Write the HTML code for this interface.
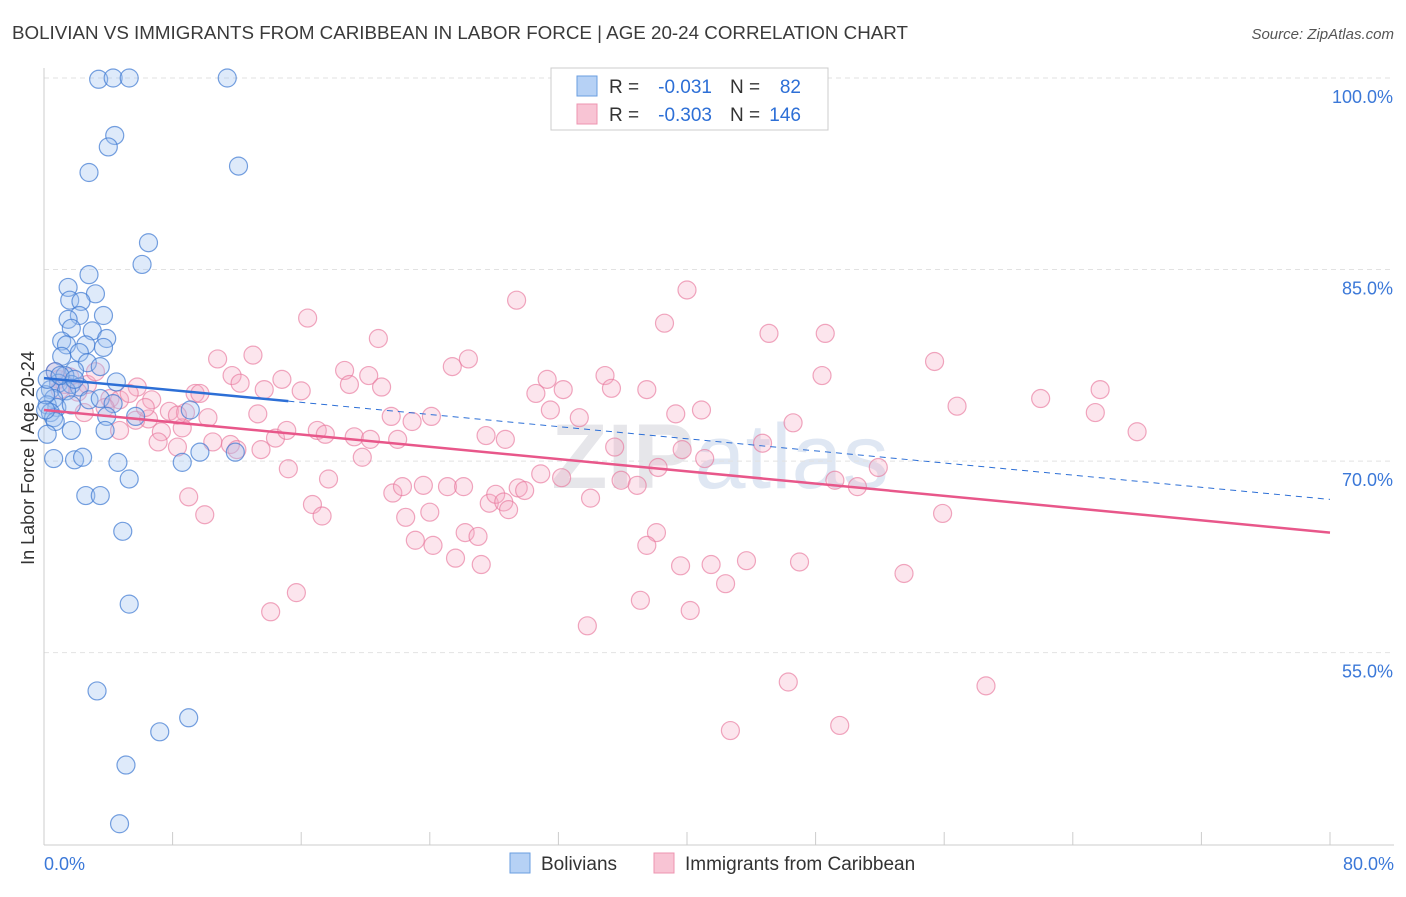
<!DOCTYPE html>
<html><head><meta charset="utf-8"><style>
body{margin:0;background:#fff;font-family:"Liberation Sans",sans-serif}
svg text{font-family:"Liberation Sans",sans-serif}
</style></head><body>
<svg id="chart" width="1406" height="892" xmlns="http://www.w3.org/2000/svg">
<text x="12" y="39" font-size="18" fill="#3a3a3a" textLength="896" lengthAdjust="spacingAndGlyphs">BOLIVIAN VS IMMIGRANTS FROM CARIBBEAN IN LABOR FORCE | AGE 20-24 CORRELATION CHART</text>
<text x="1394" y="39" font-size="15" fill="#555" font-style="italic" text-anchor="end">Source: ZipAtlas.com</text>
<text x="720" y="488" font-size="92" fill="#e6e6ea" text-anchor="middle" font-weight="bold">ZIP<tspan fill="#dfe7f3" font-weight="normal">atlas</tspan></text>
<g id="grid"></g>
<g id="axes"></g>
<g id="pts"></g>
<g id="trend"></g>
<text transform="translate(34,458) rotate(-90)" font-size="18" fill="#333" text-anchor="middle">In Labor Force | Age 20-24</text>
<g>
<rect x="551" y="68" width="277" height="62" fill="#fff" stroke="#ccc"/>
<rect x="577" y="76" width="20" height="20" fill="#b6d1f5" stroke="#6a9ee0"/>
<rect x="577" y="104" width="20" height="20" fill="#f8c4d4" stroke="#ee94b0"/>
<text x="609" y="93" font-size="19" fill="#333">R =</text>
<text x="712" y="93" font-size="19" fill="#2d6fd6" text-anchor="end">-0.031</text>
<text x="730" y="93" font-size="19" fill="#333">N =</text>
<text x="801" y="93" font-size="19" fill="#2d6fd6" text-anchor="end">82</text>
<text x="609" y="121" font-size="19" fill="#333">R =</text>
<text x="712" y="121" font-size="19" fill="#2d6fd6" text-anchor="end">-0.303</text>
<text x="730" y="121" font-size="19" fill="#333">N =</text>
<text x="801" y="121" font-size="19" fill="#2d6fd6" text-anchor="end">146</text>
</g>
<g>
<rect x="510" y="853" width="20" height="20" fill="#b6d1f5" stroke="#6a9ee0"/>
<text x="541" y="870" font-size="19" fill="#333">Bolivians</text>
<rect x="654" y="853" width="20" height="20" fill="#f8c4d4" stroke="#ee94b0"/>
<text x="685" y="870" font-size="19" fill="#333">Immigrants from Caribbean</text>
</g>
</svg>
<script>
const yTicks=[100,85,70,55];
const yTickLabels=["100.0%","85.0%","70.0%","55.0%"];
const xTickLabels=["0.0%","80.0%"];
const blueX=[3.4,4.3,5.3,11.4,4.4,4.0,12.1,2.8,6.5,6.1,2.8,1.5,3.2,1.6,2.3,2.2,1.5,3.7,1.7,3.0,3.9,1.1,1.4,2.6,3.7,2.2,1.1,2.7,3.5,1.9,0.7,1.3,4.5,0.9,1.7,2.2,0.4,1.4,0.6,2.8,3.5,4.3,0.2,0.8,1.7,5.7,9.1,3.9,0.4,0.6,0.7,0.2,1.7,3.8,11.9,9.7,8.6,0.6,1.9,2.4,4.6,5.3,2.6,3.5,4.9,5.3,3.3,9.0,7.2,5.1,4.7,0.1,0.2,1.0,1.9,0.1];
const blueY=[99.9,100,100,100,95.5,94.6,93.1,92.6,87.1,85.4,84.6,83.6,83.1,82.6,82.5,81.4,81.1,81.4,80.4,80.2,79.6,79.4,79.1,79.1,78.9,78.5,78.2,77.7,77.4,77.1,77.0,76.7,76.2,76.1,76.0,75.8,75.6,75.5,74.9,74.8,74.9,74.5,74.4,74.2,74.4,73.5,74.0,73.5,73.8,73.4,73.1,72.1,72.4,72.4,70.7,70.7,69.9,70.2,70.1,70.3,69.9,68.6,67.3,67.3,64.5,58.8,52.0,49.9,48.8,46.2,41.6,75.2,76.4,76.7,76.4,74.0];
const pinkX=[16.4,29.4,40.0,38.6,45.1,48.6,20.8,10.8,13.0,26.4,25.4,18.7,20.2,11.7,12.2,13.7,14.8,16.0,19.0,21.0,31.3,32.3,34.9,35.3,37.5,48.4,55.4,65.7,62.0,5.8,9.4,9.7,6.7,7.8,8.8,10.2,13.3,21.6,22.9,24.1,30.6,31.5,33.3,39.3,40.9,46.6,56.8,65.4,68.0,4.7,7.3,6.5,5.7,8.6,7.1,8.3,10.5,11.6,12.0,13.5,14.4,15.1,17.0,17.5,19.3,20.3,22.0,27.5,28.7,35.5,39.7,44.7,51.9,15.2,17.7,19.8,21.7,22.3,23.6,25.1,26.1,27.7,28.1,28.6,28.9,29.5,29.9,30.9,32.2,34.0,35.9,36.9,38.2,41.1,49.2,50.6,9.0,10.0,16.7,17.3,22.5,24.0,23.1,24.2,26.2,27.0,25.6,27.2,38.1,37.5,39.6,41.5,43.7,47.0,53.5,55.9,15.7,14.1,37.1,40.2,42.4,33.8,46.3,58.6,42.7,49.5,0.9,1.3,2.7,4.1,4.7,6.3,2.5,1.6,0.7,3.2,3.8,1.0,2.1,5.3,8.3];
const pinkY=[81.2,82.6,83.4,80.8,80.0,80.0,79.6,78.0,78.3,78.0,77.4,77.1,76.7,76.7,76.1,75.6,76.4,75.5,76.0,75.8,76.4,75.6,76.7,75.7,75.6,76.7,77.8,75.6,74.9,75.8,75.3,75.3,74.8,73.9,73.8,73.4,73.7,73.5,73.1,73.5,75.3,74.0,73.4,73.7,74.0,73.0,74.3,73.8,72.3,72.4,72.3,73.3,73.2,72.6,71.5,71.1,71.5,71.3,70.9,70.9,71.8,72.4,72.4,72.1,71.9,71.7,71.7,72.0,71.7,71.1,70.9,71.4,69.5,69.4,68.6,70.3,67.5,68.0,68.1,68.0,68.0,66.7,67.4,66.8,66.2,67.9,67.7,69.0,68.7,67.1,68.5,68.1,69.5,70.2,68.5,68.0,67.2,65.8,66.6,65.7,65.6,66.0,63.8,63.4,64.4,64.1,62.4,61.9,64.4,63.4,61.8,61.9,62.2,62.1,61.2,65.9,59.7,58.2,59.1,58.3,60.4,57.1,52.7,52.4,48.9,49.3,76.4,76.0,76.0,74.9,74.8,74.2,73.8,76.6,77.0,77.0,74.2,75.6,75.4,75.3,73.6];
const blueTrend=[76.5,67.0]; const blueSolidEnd=15.2;
const pinkTrend=[74.0,64.4];
const NS="http://www.w3.org/2000/svg";
const sx=v=>44+v*16.075, sy=v=>78+(100-v)*12.77;
function mk(t,a,p){const e=document.createElementNS(NS,t);for(const k in a)e.setAttribute(k,a[k]);p.appendChild(e);return e;}
const grid=document.getElementById('grid'),axes=document.getElementById('axes');
yTicks.forEach((v,i)=>{
 const l=mk('line',{x1:44,x2:1394,y1:sy(v),y2:sy(v),stroke:'#e2e2e2','stroke-dasharray':'5,4'},grid);
 
 
 const t=mk('text',{x:1393,y:sy(v)+25,'font-size':18,fill:'#3b78d8','text-anchor':'end'},axes);
 t.textContent=yTickLabels[i];
 
 
});
const yl=mk('line',{x1:44,x2:44,y1:68,y2:845,stroke:'#ccc'},axes);


const xl=mk('line',{x1:44,x2:1394,y1:845,y2:845,stroke:'#ccc'},axes);


for(let i=0;i<=10;i++){const x=44+i*128.6;const tk=mk('line',{x1:x,x2:x,y1:832,y2:845,stroke:'#ccc'},axes);
 
 }
const t0=mk('text',{x:44,y:870,'font-size':18,fill:'#3b78d8'},axes);t0.textContent=xTickLabels[0];


const t1=mk('text',{x:1394,y:870,'font-size':18,fill:'#3b78d8','text-anchor':'end'},axes);t1.textContent=xTickLabels[1];


const pts=document.getElementById('pts');
pinkX.forEach((x,i)=>{const c=mk('circle',{cx:sx(x),cy:sy(pinkY[i]),r:9,fill:'rgba(246,170,195,0.3)',stroke:'rgba(232,120,156,0.65)','stroke-width':1.2},pts);
 
 });
blueX.forEach((x,i)=>{const c=mk('circle',{cx:sx(x),cy:sy(blueY[i]),r:9,fill:'rgba(160,195,240,0.35)',stroke:'rgba(60,120,210,0.7)','stroke-width':1.2},pts);
 
 });
const tr=document.getElementById('trend');
const bAt=x=>blueTrend[0]+(blueTrend[1]-blueTrend[0])*x/80;
const b1=mk('line',{x1:sx(0),y1:sy(bAt(0)),x2:sx(blueSolidEnd),y2:sy(bAt(blueSolidEnd)),stroke:'#2d6fd6','stroke-width':2.5},tr);


const b2=mk('line',{x1:sx(blueSolidEnd),y1:sy(bAt(blueSolidEnd)),x2:sx(80),y2:sy(bAt(80)),stroke:'#2d6fd6','stroke-width':1,'stroke-dasharray':'6,5'},tr);


const p1=mk('line',{x1:sx(0),y1:sy(pinkTrend[0]),x2:sx(80),y2:sy(pinkTrend[1]),stroke:'#e8578a','stroke-width':2.5},tr);


</script>
</body></html>
